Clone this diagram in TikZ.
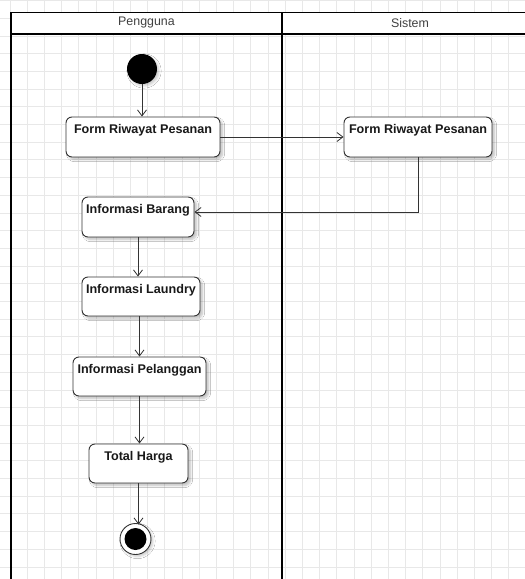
\documentclass[tikz,border=0pt]{standalone}
\usepackage{fontspec}
\setmainfont{Liberation Sans}
\usetikzlibrary{calc,arrows.meta,shadows.blur}
\definecolor{gridc}{gray}{0.91}
\definecolor{ink}{HTML}{333333}
\tikzset{
  act/.style={draw=ink, line width=0.9pt, rounded corners=6pt, fill=white,
    inner sep=0pt,
    blur shadow={shadow xshift=2.5pt, shadow yshift=-2.5pt,
      shadow blur steps=6, shadow opacity=25}},
  acttext/.style={anchor=base, inner sep=0pt, font=\bfseries\fontsize{12.6}{15}\selectfont, text=black!90},
  flow/.style={draw=ink, line width=0.8pt, -{Straight Barb[length=6pt,width=9pt,line width=0.8pt]}},
  lane/.style={draw=black, line width=1.8pt},
  lanetitle/.style={font=\fontsize{12.4}{15}\selectfont, text=black!75},
  startdot/.style={circle, fill=black, inner sep=0pt, minimum size=30pt,
    blur shadow={shadow xshift=2pt, shadow yshift=-2pt, shadow opacity=20}},
}
\begin{document}
\begin{tikzpicture}[x=1pt, y=-1pt]
  \useasboundingbox (0,0) rectangle (525,579);
  \fill[white] (0,0) rectangle (525,579);
  % background grid
  \foreach \i in {0,...,30} {
    \draw[gridc, line width=0.7pt] ({10+17.2*\i},0) -- ({10+17.2*\i},579);
  }
  \foreach \j in {0,...,33} {
    \draw[gridc, line width=0.7pt] (0,{0.5+17.7*\j}) -- (525,{0.5+17.7*\j});
  }
  % swimlanes
  \fill[white] (11,12.5) rectangle (540,34);
  \draw[lane] (540,12.5) -- (11,12.5) -- (11,590);
  \draw[lane] (11,34) -- (540,34);
  \draw[lane] (282,12.5) -- (282,590);
  \node[lanetitle] (lane1) at (146.5,23) {Pengguna};
  \node[lanetitle] (lane2) at (410,23) {Sistem};

  % initial and final states
  \node[startdot] (start) at (142,69) {};
  \node[circle, draw=ink, line width=0.9pt, fill=white, inner sep=0pt, minimum size=31pt,
    blur shadow={shadow xshift=2pt, shadow yshift=-2pt, shadow opacity=20}] (endc) at (135.5,539) {};
  \node[circle, fill=black, inner sep=0pt, minimum size=22pt] (endin) at (135.5,539) {};

  % activities
  \node[act, minimum width=154pt, minimum height=40pt] (f1) at (143,137) {};
  \node[acttext] (f1t) at ($(f1.north)+(0,17)$) {Form Riwayat Pesanan};
  \node[act, minimum width=148pt, minimum height=40pt] (f2) at (418,137) {};
  \node[acttext] (f2t) at ($(f2.north)+(0,17)$) {Form Riwayat Pesanan};
  \node[act, minimum width=112pt, minimum height=40pt] (brg) at (138,217) {};
  \node[acttext] (brgt) at ($(brg.north)+(0,17)$) {Informasi Barang};
  \node[act, minimum width=118pt, minimum height=39pt] (lnd) at (141,296.5) {};
  \node[acttext] (lndt) at ($(lnd.north)+(0,17)$) {Informasi Laundry};
  \node[act, minimum width=133pt, minimum height=39pt] (plg) at (139.5,376.5) {};
  \node[acttext] (plgt) at ($(plg.north)+(0,17)$) {Informasi Pelanggan};
  \node[act, minimum width=99pt, minimum height=39pt] (tot) at (138.5,463.5) {};
  \node[acttext] (tott) at ($(tot.north)+(0,17)$) {Total Harga};

  % transitions
  \draw[flow] (start.south) -- (start.south |- f1.north);
  \draw[flow] (f1.east) -- (f2.west);
  \draw[flow] (f2.south) |- ([yshift=5pt]brg.east);
  \draw[flow] (brg.south) -- (brg.south |- lnd.north);
  \draw[flow] ([xshift=-1.5pt]lnd.south) -- ([xshift=-1.5pt]lnd.south |- plg.north);
  \draw[flow] (plg.south) -- (plg.south |- tot.north);
  \draw[flow] (tot.south) -- ($(tot.south |- endc.north)+(0,1.5)$);
\end{tikzpicture}
\end{document}
